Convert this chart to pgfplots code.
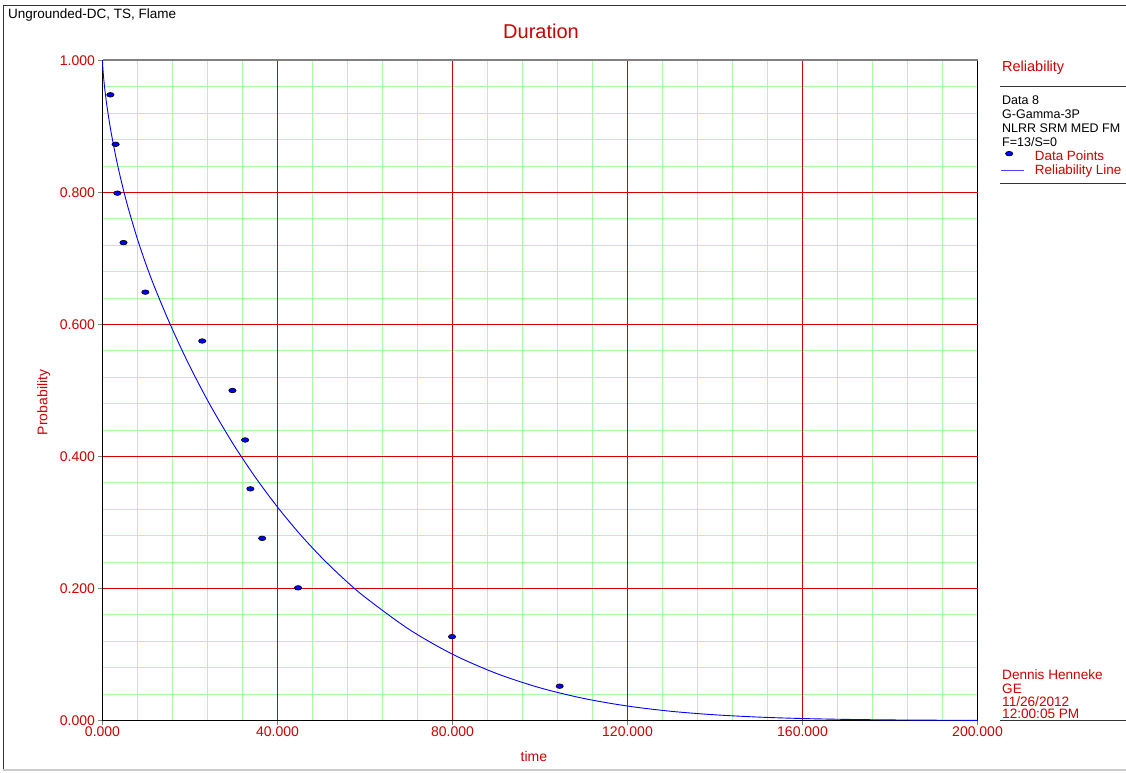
\documentclass[border=0pt]{standalone}
\usepackage{pgfplots}
\pgfplotsset{compat=1.18}
\usepackage{fontspec}
\setmainfont{Liberation Sans}
\definecolor{rtxt}{RGB}{204,0,0}
\definecolor{rgrid}{RGB}{210,0,0}
\definecolor{ggrid}{RGB}{170,250,170}
\definecolor{cblue}{RGB}{0,0,255}
\definecolor{lblue}{RGB}{70,70,255}
\pgfplotsset{
  linelegend/.style={legend image code/.code={\draw[color=lblue, line width=1bp] (0bp,0bp) -- (23bp,0bp); \path (33bp,0bp);}},
  marklegend/.style={legend image code/.code={\draw[##1] plot coordinates {(8bp,3bp)}; \path (33bp,0bp);}},
  rg/.style={color=rgrid, line width=1bp, forget plot, mark=none},
}
\begin{document}
\begin{tikzpicture}[x=1bp,y=1bp]
\useasboundingbox (0,0) rectangle (1126,773);
% frame
\draw[black!80, line width=1bp] (3,767.5) -- (1126,767.5);
\draw[black!80, line width=1bp] (3.5,767.5) -- (3.5,3);
\draw[black!20, line width=1.5bp] (3,3) -- (1126,3);
\begin{axis}[
  at={(102.5bp,52.5bp)}, anchor=south west,
  scale only axis, width=875bp, height=660bp,
  xmin=0, xmax=200, ymin=0, ymax=1,
  xtick={0,40,80,120,160,200},
  ytick={0,0.2,0.4,0.6,0.8,1.0},
  minor xtick={8,16,24,32,48,56,64,72,88,96,104,112,128,136,144,152,168,176,184,192},
  minor ytick={0.04,0.08,0.12,0.16,0.24,0.28,0.32,0.36,0.44,0.48,0.52,0.56,0.64,0.68,0.72,0.76,0.84,0.88,0.92,0.96},
  grid=minor,
  minor grid style={draw=ggrid, line width=1.1bp},
  tick align=outside, xtick pos=left, ytick pos=left,
  major tick length=5bp, minor tick length=0pt,
  tick style={line width=0.8bp},
  axis line style={black, line width=1bp},
  /pgf/number format/assume math mode=true,
  xticklabel={\pgfmathprintnumber[fixed,fixed zerofill,precision=3,1000 sep={}]{\tick}},
  yticklabel={\pgfmathprintnumber[fixed,fixed zerofill,precision=3,1000 sep={}]{\tick}},
  ticklabel style={font=\fontsize{14bp}{16bp}\selectfont, text=rtxt},
  xticklabel style={yshift=2bp},
  yticklabel style={xshift=1bp},
  xlabel={time}, ylabel={Probability},
  xlabel style={at={(axis description cs:0.493,-0.054)}, anchor=center, font=\fontsize{14bp}{16bp}\selectfont, text=rtxt},
  ylabel style={at={(axis description cs:-0.067,0.482)}, anchor=center, font=\fontsize{14bp}{16bp}\selectfont, text=rtxt},
  legend style={at={(rel axis cs:1.0262,0.864)}, anchor=north west, draw=none, fill=none,
    font=\fontsize{13.4bp}{14bp}\selectfont, text=rtxt, inner sep=0pt, row sep=1.5bp,
    nodes={inner sep=0.6bp}},
  legend cell align=left,
  clip=false,
]
% major grid lines (red)
\addplot[rg] coordinates {(40,0) (40,1)};
\addplot[rg] coordinates {(80,0) (80,1)};
\addplot[rg] coordinates {(120,0) (120,1)};
\addplot[rg] coordinates {(160,0) (160,1)};
\addplot[rg] coordinates {(0,0.2) (200,0.2)};
\addplot[rg] coordinates {(0,0.4) (200,0.4)};
\addplot[rg] coordinates {(0,0.6) (200,0.6)};
\addplot[rg] coordinates {(0,0.8) (200,0.8)};
\addplot[cblue, line width=0.9bp, smooth, mark=none, forget plot]
  coordinates {
  (0,1.000) (0.02,0.9958) (0.05,0.9919) (0.1,0.9866) (0.3,0.9707) (0.6,0.9522)
  (1,0.9317) (1.5,0.9097) (2,0.8900) (3,0.8556) (4,0.8255) (5,0.7983) (6,0.7735)
  (8,0.7291) (10,0.6900) (12,0.6550) (15,0.6073) (18,0.5635) (21,0.5229)
  (25,0.4733) (30,0.4175) (35,0.3679) (40,0.3234) (45,0.2833) (50,0.2475)
  (55,0.2155) (60,0.1869) (70,0.1384) (80,0.1004) (90,0.0714) (100,0.0495)
  (110,0.0334) (120,0.0219) (130,0.0139) (140,0.0086) (150,0.00515)
  (160,0.00298) (170,0.00167) (180,0.0009) (190,0.00047) (200,0.00023)
  };
\addplot[only marks, mark=*, mark size=2.3bp, mark options={xscale=1.6, fill=cblue, draw=black, line width=0.6bp}, marklegend]
  coordinates {
  (1.8,0.948) (3.0,0.873) (3.4,0.799) (4.8,0.724) (9.8,0.649) (22.8,0.575)
  (29.7,0.500) (32.6,0.425) (33.8,0.351) (36.5,0.276) (44.7,0.201) (79.9,0.127) (104.5,0.052)
  };
\addlegendentry{Data Points}
\addlegendimage{linelegend}
\addlegendentry{Reliability Line}
\end{axis}
\draw[black!50, line width=2bp] (102.5,712.5) -- (977.5,712.5);
\node[anchor=base west, inner sep=0, font=\fontsize{13.5bp}{15bp}\selectfont] at (8,754) {Ungrounded-DC, TS, Flame};
\node[anchor=base, inner sep=0, font=\fontsize{20bp}{22bp}\selectfont, text=rtxt] at (541,734) {Duration};
\node[anchor=base west, inner sep=0, font=\fontsize{14.5bp}{16bp}\selectfont, text=rtxt] at (1002,701) {Reliability};
\draw[black!80, line width=1bp] (1000,686.5) -- (1126,686.5);
\begin{scope}[font=\fontsize{12.5bp}{14bp}\selectfont]
\node[anchor=base west, inner sep=0] at (1002,668) {Data 8};
\node[anchor=base west, inner sep=0] at (1002,654) {G-Gamma-3P};
\node[anchor=base west, inner sep=0] at (1002,640) {NLRR SRM MED FM};
\node[anchor=base west, inner sep=0] at (1002,626) {F=13/S=0};
\end{scope}
\draw[black!80, line width=1bp] (1000,589.5) -- (1126,589.5);
\begin{scope}[font=\fontsize{13.6bp}{14bp}\selectfont, text=rtxt]
\node[anchor=base west, inner sep=0] at (1002,93) {Dennis Henneke};
\node[anchor=base west, inner sep=0] at (1002,79) {GE};
\node[anchor=base west, inner sep=0] at (1002,66) {11/26/2012};
\node[anchor=base west, inner sep=0] at (1002,54) {12:00:05 PM};
\end{scope}
\draw[black!80, line width=1bp] (1000,52.5) -- (1126,52.5);
\end{tikzpicture}
\end{document}
